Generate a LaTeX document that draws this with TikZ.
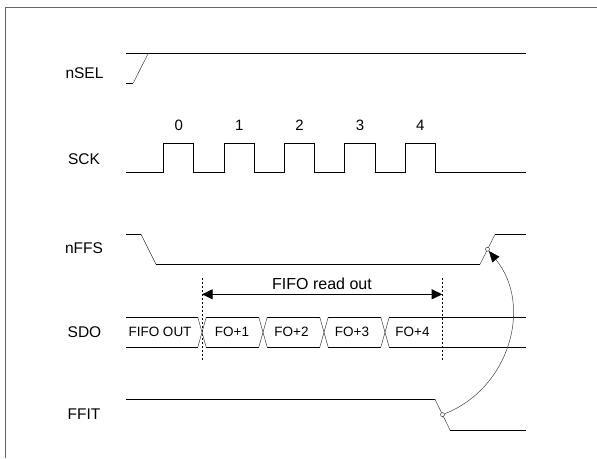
\documentclass[tikz,border=0pt]{standalone}
\usepackage{fontspec}
\setmainfont{Liberation Sans}
\usetikzlibrary{arrows.meta}
\begin{document}
\begin{tikzpicture}[x=1pt,y=-1pt,
  sig/.style={line width=1pt,black},
  edge/.style={line width=0.5pt,black!75},
  lbl/.style={font=\fontsize{15.5}{18}\selectfont,inner sep=0},
  ttl/.style={font=\fontsize{16}{18}\selectfont,inner sep=0},
  num/.style={font=\fontsize{15}{18}\selectfont,inner sep=0},
  bus/.style={font=\fontsize{13.5}{16}\selectfont,inner sep=0},
  guide/.style={line width=0.8pt,dash pattern=on 2pt off 2pt},
  dot/.style={circle,draw=black!75,fill=white,line width=0.5pt,inner sep=0,minimum size=4pt},
  tri/.tip={Triangle[length=10.7pt,width=10pt]},
]
\useasboundingbox (0,0) rectangle (597,458);
% frame
\draw[line width=1.2pt,black!60] (5.3,458) -- (5.3,7.7) -- (597,7.7);

% labels
\node[lbl] (lnsel) at (84.5,73) {nSEL};
\node[lbl] (lsck) at (84,159) {SCK};
\node[lbl] (lnffs) at (84,248.3) {nFFS};
\node[lbl] (lsdo) at (84.5,332.3) {SDO};
\node[lbl] (lffit) at (84,414) {FFIT};

% nSEL
\draw[sig] (126,53.3) -- (526,53.3);
\draw[sig] (126,83) -- (133.3,83);
\draw[edge] (133.3,83) -- (148.3,53.3);

% SCK
\draw[sig] (126,172.7) -| (163.7,143.3) -| (193.8,172.7)
  -| (224.1,143.3) -| (254.2,172.7)
  -| (284.5,143.3) -| (314.6,172.7)
  -| (344.9,143.3) -| (375.0,172.7)
  -| (405.3,143.3) -| (435.4,172.7) -- (526,172.7);
\node[num] (n0) at (178.8,125) {0};
\node[num] (n1) at (239.2,125) {1};
\node[num] (n2) at (299.6,125) {2};
\node[num] (n3) at (360.0,125) {3};
\node[num] (n4) at (420.4,125) {4};

% nFFS
\draw[sig] (126,234.3) -- (141,234.3);
\draw[edge] (141,234.3) -- (156,264.3);
\draw[sig] (156,264.3) -- (480,264.3);
\draw[edge] (480,264.3) -- (495,234.3);
\draw[sig] (495,234.3) -- (526,234.3);

% FIFO read out
\coordinate (gl) at (202,294.3);
\coordinate (gr) at (442.3,294.3);
\draw[guide] (202,278.3) -- (202,361.7);
\draw[guide] (442.3,278.3) -- (442.3,361.7);
\draw[line width=1pt,{tri}-{tri}] (gl) -- (gr);
\node[ttl] (tread) at (322,284) {FIFO read out};

% SDO bus
\draw[sig] (126,317.3) -- (197.8,317.3) (206.2,317.3) -- (258.8,317.3)
  (267.2,317.3) -- (319.8,317.3) (328.2,317.3) -- (380.8,317.3)
  (389.2,317.3) -- (526,317.3);
\draw[sig] (126,347.3) -- (197.8,347.3) (206.2,347.3) -- (258.8,347.3)
  (267.2,347.3) -- (319.8,347.3) (328.2,347.3) -- (380.8,347.3)
  (389.2,347.3) -- (526,347.3);
\foreach \c in {202,263,324,385}{
  \draw[edge] (\c-4.2,317.3) -- (\c+4.2,347.3);
  \draw[edge] (\c-4.2,347.3) -- (\c+4.2,317.3);
}
\node[bus] (b0) at (160,332.3) {FIFO OUT};
\node[bus] (b1) at (232,332.3) {FO+1};
\node[bus] (b2) at (291.5,332.3) {FO+2};
\node[bus] (b3) at (352,332.3) {FO+3};
\node[bus] (b4) at (412.5,332.3) {FO+4};

% FFIT
\draw[sig] (126,399.3) -- (435,399.3);
\draw[edge] (435,399.3) -- (450,430);
\draw[sig] (450,430) -- (526,430);

% arc arrow
\node[dot] (dffit) at (442.5,414.6) {};
\node[dot] (dnffs) at (487.5,249.3) {};
\draw[edge,-{Triangle[length=11pt,width=9pt,color=black]}] (dffit) .. controls (509.6,388.4) and (533.2,305.2) .. (dnffs);
\end{tikzpicture}
\end{document}
